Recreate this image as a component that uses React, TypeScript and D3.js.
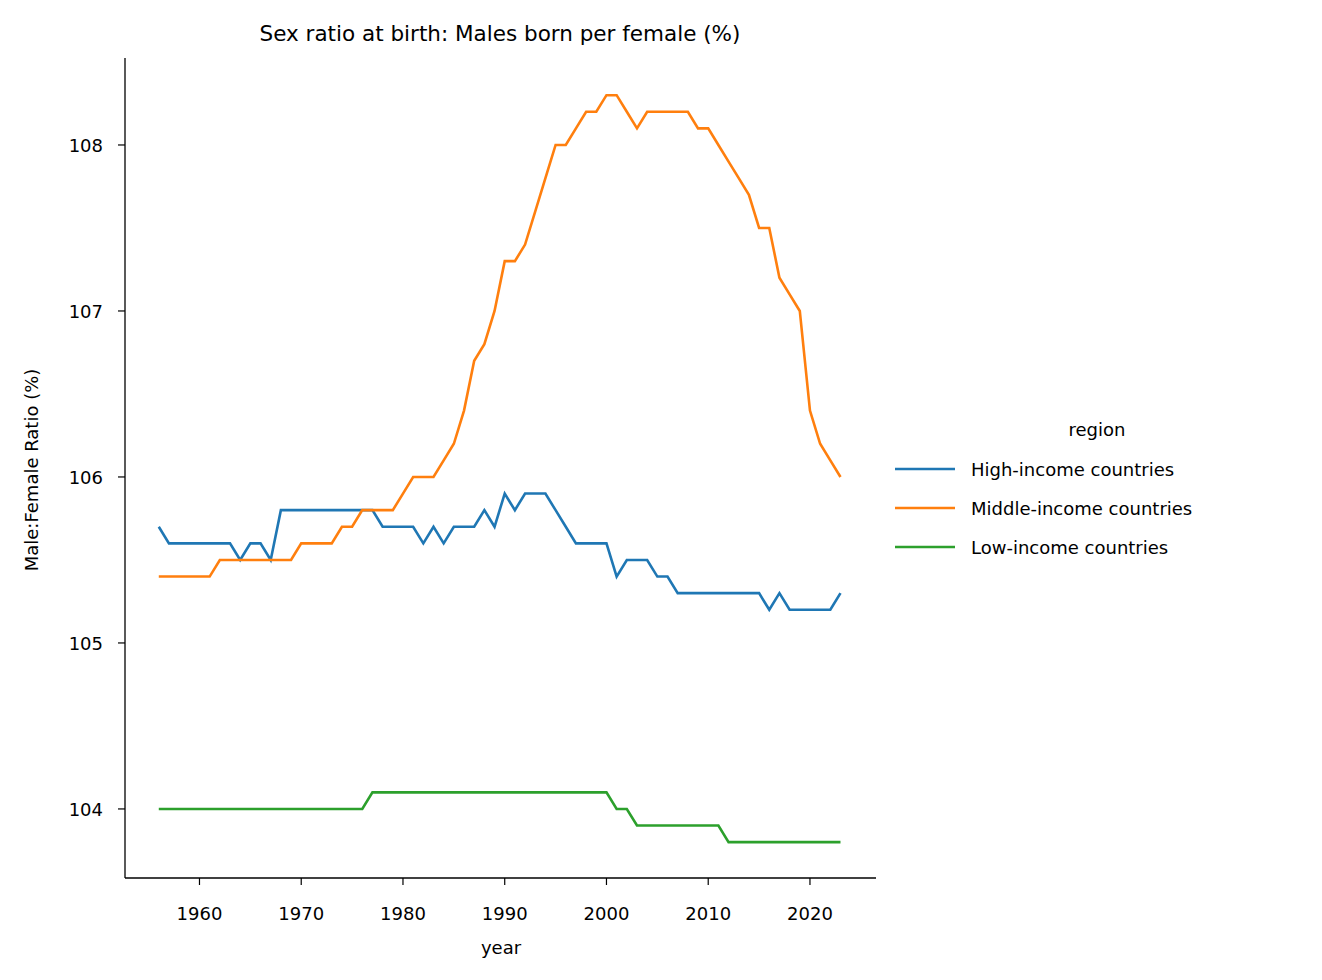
import React from "react";
import * as d3 from "d3";

const years = d3.range(1956, 2024);
const high = [105.7,105.6,105.6,105.6,105.6,105.6,105.6,105.6,105.5,105.6,105.6,105.5,105.8,105.8,105.8,105.8,105.8,105.8,105.8,105.8,105.8,105.8,105.7,105.7,105.7,105.7,105.6,105.7,105.6,105.7,105.7,105.7,105.8,105.7,105.9,105.8,105.9,105.9,105.9,105.8,105.7,105.6,105.6,105.6,105.6,105.4,105.5,105.5,105.5,105.4,105.4,105.3,105.3,105.3,105.3,105.3,105.3,105.3,105.3,105.3,105.2,105.3,105.2,105.2,105.2,105.2,105.2,105.3];
const middle = [105.4,105.4,105.4,105.4,105.4,105.4,105.5,105.5,105.5,105.5,105.5,105.5,105.5,105.5,105.6,105.6,105.6,105.6,105.7,105.7,105.8,105.8,105.8,105.8,105.9,106.0,106.0,106.0,106.1,106.2,106.4,106.7,106.8,107.0,107.3,107.3,107.4,107.6,107.8,108.0,108.0,108.1,108.2,108.2,108.3,108.3,108.2,108.1,108.2,108.2,108.2,108.2,108.2,108.1,108.1,108.0,107.9,107.8,107.7,107.5,107.5,107.2,107.1,107.0,106.4,106.2,106.1,106.0];
const low = [104.0,104.0,104.0,104.0,104.0,104.0,104.0,104.0,104.0,104.0,104.0,104.0,104.0,104.0,104.0,104.0,104.0,104.0,104.0,104.0,104.0,104.1,104.1,104.1,104.1,104.1,104.1,104.1,104.1,104.1,104.1,104.1,104.1,104.1,104.1,104.1,104.1,104.1,104.1,104.1,104.1,104.1,104.1,104.1,104.1,104.0,104.0,103.9,103.9,103.9,103.9,103.9,103.9,103.9,103.9,103.9,103.8,103.8,103.8,103.8,103.8,103.8,103.8,103.8,103.8,103.8,103.8,103.8];
const seriesNames = ["High-income countries", "Middle-income countries", "Low-income countries"];
const seriesData = [high, middle, low];
const colors = ["#1f77b4", "#ff7f0e", "#2ca02c"];
const xTicks = [1960, 1970, 1980, 1990, 2000, 2010, 2020];
const yTicks = [104, 105, 106, 107, 108];

const L = 125, R = 876, T = 58, B = 878;

export default function App() {
  const x = d3.scaleLinear().domain([1952.68, 2026.49]).range([L, R]);
  const y = d3.scaleLinear().domain([103.584, 108.524]).range([B, T]);
  const line = d3.line<number>().x((_, i) => x(years[i])).y((d) => y(d));
  const fs = { fontSize: "18px", fontFamily: "'DejaVu Sans', sans-serif" };
  const ts = { fontSize: "21.5px", fontFamily: "'DejaVu Sans', sans-serif" };
  return (
    <svg width={1322} height={980} style={{ position: "absolute", left: 0, top: 0, background: "#fff" }}>
      <text x={500} y={41} style={ts} textAnchor="middle">Sex ratio at birth: Males born per female (%)</text>
      {seriesData.map((s, k) => (
        <path key={k} d={line(s) || ""} fill="none" stroke={colors[k]} strokeWidth={2.6} />
      ))}
      <line x1={L} x2={L} y1={T} y2={B} stroke="#000" strokeWidth={1.3} />
      <line x1={L} x2={R} y1={B} y2={B} stroke="#000" strokeWidth={1.3} />
      {xTicks.map((t) => (
        <g key={t}>
          <line x1={x(t)} x2={x(t)} y1={B} y2={B + 7} stroke="#000" strokeWidth={1.2} />
          <text x={x(t)} y={B + 42} style={fs} textAnchor="middle">{t}</text>
        </g>
      ))}
      {yTicks.map((t) => (
        <g key={t}>
          <line x1={L - 7} x2={L} y1={y(t)} y2={y(t)} stroke="#000" strokeWidth={1.2} />
          <text x={L - 22} y={y(t) + 7} style={fs} textAnchor="end">{t}</text>
        </g>
      ))}
      <text x={501} y={954} style={fs} textAnchor="middle">year</text>
      <text transform={`translate(38,${(T + B) / 2 + 2}) rotate(-90)`} style={fs} textAnchor="middle">Male:Female Ratio (%)</text>
      <text x={1097} y={436} style={fs} textAnchor="middle">region</text>
      {seriesNames.map((n, k) => (
        <g key={n}>
          <line x1={895} x2={955} y1={469 + k * 39} y2={469 + k * 39} stroke={colors[k]} strokeWidth={2.6} />
          <text x={971} y={476 + k * 39} style={fs}>{n}</text>
        </g>
      ))}
    </svg>
  );
}
